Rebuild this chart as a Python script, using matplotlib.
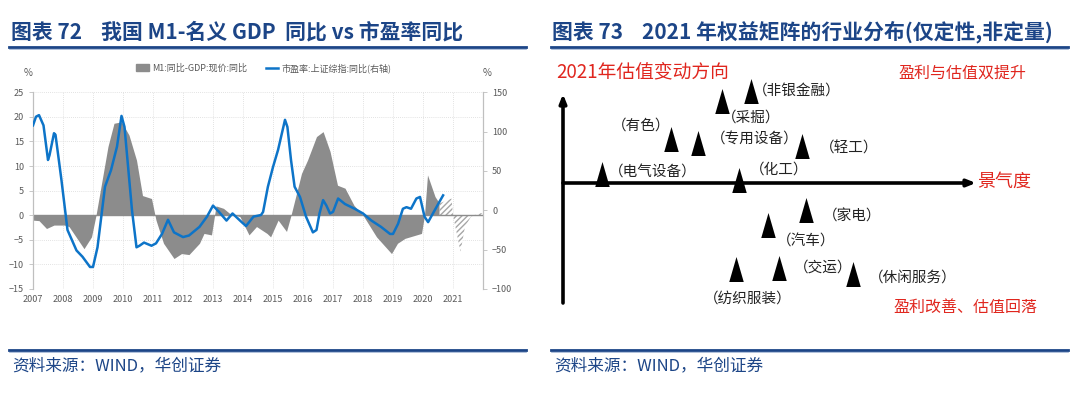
import matplotlib.pyplot as plt
from matplotlib.lines import Line2D
from matplotlib.patches import Patch

plt.rcParams['font.family'] = ['Noto Sans CJK SC', 'DejaVu Sans']

# ---------- 图表72 数据 ----------
# M1同比 - 名义GDP同比 (左轴, %)
m1_x = [2007.0, 2007.2, 2007.45, 2007.7, 2008.05, 2008.2, 2008.7, 2008.95, 2009.1,
        2009.3, 2009.5, 2009.7, 2009.95, 2010.2, 2010.45, 2010.65, 2010.95, 2011.1,
        2011.35, 2011.7, 2011.95, 2012.2, 2012.55, 2012.7, 2012.95, 2013.1, 2013.35,
        2013.55, 2013.9, 2014.2, 2014.45, 2014.8, 2014.92, 2015.17, 2015.45, 2015.6,
        2015.95, 2016.15, 2016.45, 2016.67, 2016.9, 2017.15, 2017.4, 2017.7, 2018.0,
        2018.45, 2018.95, 2019.15, 2019.4, 2019.95, 2020.05, 2020.15, 2020.4, 2020.55]
m1_y = [-1.0, -1.1, -2.7, -2.0, -2.0, -2.3, -6.8, -4.4, 0.0,
        7.0, 14.0, 18.7, 19.0, 16.3, 11.2, 4.0, 3.4, -1.0,
        -5.7, -8.8, -7.8, -8.0, -5.7, -3.7, -4.0, 1.9, 1.4,
        0.4, -0.3, -4.0, -2.3, -3.7, -4.4, -1.0, -3.3, 0.0,
        8.5, 11.2, 16.0, 17.0, 13.0, 6.1, 5.5, 2.0, 0.0,
        -4.4, -7.8, -5.7, -4.7, -3.7, 0.0, 8.2, 3.8, 2.4]
# 预测部分 (阴影)
m1_fc_x = [2020.55, 2020.95, 2021.0, 2021.25, 2021.4, 2021.6, 2021.85, 2022.0]
m1_fc_y = [2.4, 3.4, 0.0, -7.4, -2.3, -0.3, 0.4, 0.4]

# 市盈率:上证综指:同比 (右轴, %)
pe_x = [2007.0, 2007.1, 2007.2, 2007.35, 2007.5, 2007.55, 2007.7, 2007.75, 2007.95,
        2008.15, 2008.45, 2008.65, 2008.9, 2009.0, 2009.15, 2009.4, 2009.6, 2009.8,
        2009.95, 2010.05, 2010.3, 2010.45, 2010.55, 2010.7, 2010.95, 2011.1, 2011.3,
        2011.5, 2011.7, 2012.0, 2012.2, 2012.55, 2012.8, 2013.0, 2013.2, 2013.45,
        2013.65, 2013.9, 2014.1, 2014.35, 2014.6, 2014.67, 2014.83, 2015.0, 2015.17,
        2015.4, 2015.48, 2015.6, 2015.72, 2015.9, 2016.1, 2016.33, 2016.45, 2016.55,
        2016.67, 2016.78, 2016.9, 2017.0, 2017.17, 2017.4, 2017.72, 2018.0, 2018.28,
        2018.6, 2018.9, 2019.0, 2019.17, 2019.33, 2019.45, 2019.6, 2019.78, 2019.9,
        2020.05, 2020.17, 2020.33, 2020.55, 2020.67]
pe_y = [108, 119, 121, 108, 64, 70, 98, 96, 38,
        -25, -51, -59, -72, -72, -47, 30, 51, 81,
        120, 106, 0, -47, -45, -41, -45, -42, -30,
        -12, -28, -34, -32, -21, -8, 6, -2, -13,
        -4, -13, -20, -8, -6, -2, 30, 55, 77,
        115, 106, 64, 30, 17, -8, -28, -25, -4,
        13, 6, -4, -2, 15, 8, 2, -4, -13,
        -21, -30, -30, -17, 2, 4, 2, 15, 17,
        -8, -15, -4, 11, 19]
years = list(range(2007, 2022))

# ---------- 图表73 数据 ----------
industries = ['电气设备', '有色', '专用设备', '采掘', '非银金融', '化工',
              '轻工', '家电', '汽车', '纺织服装', '交运', '休闲服务']
boom = [3.9, 10.8, 13.5, 15.9, 18.8, 17.6, 23.9, 24.3, 20.5, 17.3, 21.6, 29.0]
valuation = [0.9, 4.45, 4.05, 8.2, 9.2, 0.3, 3.7, -2.7, -4.2, -8.6, -8.45, -9.1]

# 标签相对三角形的偏移(像素)与对齐
label_pos = [(7, 1, 'left'), (-1, 12.5, 'right'), (13, 2.5, 'left'), (0, -17, 'left'),
             (2, -1, 'left'), (11, 10, 'left'), (18, -2, 'left'), (17, -7, 'left'),
             (9, -17, 'left'), (12, -30, 'center'), (15, -0.5, 'left'), (16, -4, 'left')]

navy = '#1C4587'
red = '#E0261E'
gray_txt = '#595959'

W, H = 1080, 398
fig = plt.figure(figsize=(W / 100, H / 100), dpi=100)


def fx(px):
    return px / W


def fy(py):
    return 1 - py / H


# 标题和分隔线
fig.text(fx(11), fy(32), '图表 72    我国 M1-名义 GDP  同比 vs 市盈率同比',
         fontsize=15, fontweight='bold', color=navy, va='center')
fig.text(fx(552), fy(32), '图表 73    2021 年权益矩阵的行业分布(仅定性,非定量)',
         fontsize=15, fontweight='bold', color=navy, va='center')
for x0, x1 in [(9, 526), (551, 1068)]:
    fig.add_artist(Line2D([fx(x0), fx(x1)], [fy(46.5), fy(46.5)], color=navy, lw=2))
    fig.add_artist(Line2D([fx(x0), fx(x1)], [fy(48.5), fy(48.5)], color='#8FA7CC', lw=0.5))
    fig.add_artist(Line2D([fx(x0), fx(x1)], [fy(349.5), fy(349.5)], color=navy, lw=2))
    fig.add_artist(Line2D([fx(x0), fx(x1)], [fy(351.8), fy(351.8)], color='#8FA7CC', lw=0.5))
    fig.text(fx(x0 + 3), fy(366), '资料来源：WIND，华创证券', fontsize=12,
             color=navy, va='center', style='italic')

# ---------- 左图 ----------
ax = fig.add_axes([fx(33), fy(289), fx(483) - fx(33), fy(92.3) - fy(289)])
axr = ax.twinx()
ax.fill_between(m1_x, m1_y, 0, color='#8C8C8C', lw=0, zorder=2)
ax.fill_between(m1_fc_x, m1_fc_y, 0, facecolor='white', edgecolor='#A6A6A6',
                hatch='//////', lw=0, zorder=2)
ax.axhline(0, color='#8C8C8C', lw=1, zorder=2)
axr.plot(pe_x, pe_y, color='#0D74C8', lw=1.8, zorder=3)

ax.set_xlim(2007, 2022)
ax.set_ylim(-15, 25)
axr.set_ylim(-100, 150)
ax.set_yticks(range(-15, 26, 5))
axr.set_yticks(range(-100, 151, 50))
ax.set_xticks(years)
ax.set_xticklabels([str(y) for y in years])
ax.grid(True, color='#D9D9D9', lw=0.6, ls=(0, (1, 1.5)), zorder=0)
ax.set_axisbelow(True)
for a in (ax, axr):
    for s in ('top', 'bottom'):
        a.spines[s].set_visible(False)
    a.spines['left'].set_color('#BFBFBF')
    a.spines['right'].set_color('#BFBFBF')
    a.tick_params(labelsize=6.5, colors=gray_txt, length=3, width=0.6)
    a.tick_params(axis='y', color='#BFBFBF')
ax.tick_params(axis='x', length=0, pad=4)
ax.text(-0.012, 1.085, '%', transform=ax.transAxes, fontsize=7, color=gray_txt, ha='center')
axr.text(1.01, 1.085, '%', transform=ax.transAxes, fontsize=7, color=gray_txt, ha='center')

handles = [Patch(color='#8C8C8C'), Line2D([0], [0], color='#0D74C8', lw=1.8)]
fig.legend(handles, ['M1:同比-GDP:现价:同比', '市盈率:上证综指:同比(右轴)'],
           loc='center', bbox_to_anchor=(fx(264), fy(68)), ncol=2, frameon=False,
           fontsize=6.5, labelcolor=gray_txt, handlelength=1.4, handleheight=0.8,
           columnspacing=2.0, handletextpad=0.4)

# ---------- 右图 ----------
bx = fig.add_axes([fx(545), fy(340), fx(1075) - fx(545), fy(55) - fy(340)])
bx.set_xlim(-1.8, 51.2)
bx.set_ylim(-15.7, 12.8)
bx.axis('off')

bx.annotate('', xy=(0, 8.9), xytext=(0, -12.0),
            arrowprops=dict(arrowstyle='-|>,head_length=0.5,head_width=0.2', lw=2.6,
                            color='black', shrinkA=0, shrinkB=0))
bx.annotate('', xy=(41.3, 0), xytext=(0, 0),
            arrowprops=dict(arrowstyle='-|>,head_length=0.5,head_width=0.2', lw=2.6,
                            color='black', shrinkA=0, shrinkB=0))

tri = [(-0.29, -0.5), (0.29, -0.5), (0, 0.5)]
bx.scatter(boom, valuation, marker=tri, s=18 ** 2, color='black', zorder=3, lw=0)
for name, x, y, (dx, dy, ha) in zip(industries, boom, valuation, label_pos):
    bx.annotate('（' + name + '）', (x, y), xytext=(dx, dy), textcoords='offset pixels',
                ha=ha, va='center', fontsize=10.5, color='#222222')

bx.text(-0.7, 11.1, '2021年估值变动方向', color=red, fontsize=13.5, va='center')
bx.text(33.5, 11.0, '盈利与估值双提升', color=red, fontsize=11.5, va='center')
bx.text(41.4, 0.1, '景气度', color=red, fontsize=13, va='center')
bx.text(33.0, -12.4, '盈利改善、估值回落', color=red, fontsize=11.5, va='center')

fig.savefig('out.png', dpi=100)
